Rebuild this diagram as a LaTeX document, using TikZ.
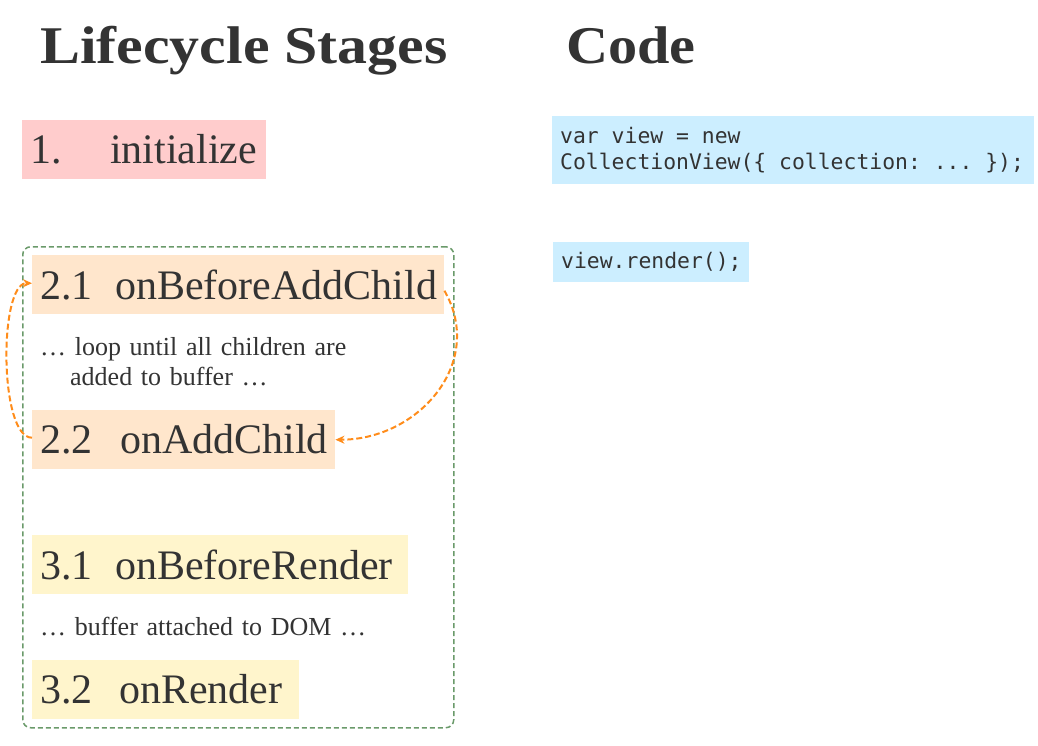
\documentclass[tikz,border=0pt]{standalone}
\usepackage{fontspec}
\setmainfont{Liberation Serif}
\newfontfamily\codefont{DejaVu Sans Mono}
\newcommand\cspace{\phantom{x}}
\usetikzlibrary{arrows.meta}
\definecolor{txt}{HTML}{333333}
\definecolor{pinkfill}{HTML}{FFCCCC}
\definecolor{peachfill}{HTML}{FFE6CC}
\definecolor{yellowfill}{HTML}{FFF5CC}
\definecolor{bluefill}{HTML}{CCEEFF}
\definecolor{loopgreen}{RGB}{106,154,106}
\definecolor{looporange}{HTML}{FF8C1A}
\tikzset{
  titletext/.style={anchor=base west, inner sep=0pt, text=txt, font=\fontsize{53}{60}\selectfont\bfseries},
  stagebox/.style={anchor=north west, inner xsep=8pt, inner ysep=0pt, align=left, text=txt,
     minimum height=59pt, font=\fontsize{42}{48}\selectfont},
  notetext/.style={anchor=base west, inner sep=0pt, align=left, text=txt,
     font=\fontsize{26}{30}\selectfont},
  codebox/.style={anchor=north west, inner xsep=8pt, inner ysep=0pt, align=left, text=txt,
     fill=bluefill, font=\codefont\fontsize{21.4}{26}\selectfont},
  groupbox/.style={draw=loopgreen, line width=1.5pt, dash pattern=on 5pt off 3pt, rounded corners=8pt},
  looparrow/.style={draw=looporange, line width=2pt, dash pattern=on 6pt off 3pt,
     -{Stealth[length=9pt,width=8pt]}},
}
\begin{document}
\begin{tikzpicture}[x=1pt,y=-1pt]
\useasboundingbox (0,0) rectangle (1038,745);
% titles
\node[titletext] (tstages) at (40,63) {\scalebox{1.13}[1]{Lifecycle Stages}};
\node[titletext] (tcode) at (566,63) {\scalebox{1.1}[1]{Code}};
% group
\node[groupbox, anchor=north west, minimum width=431pt, minimum height=481pt, inner sep=0pt] (grp) at (22,246) {};
% stages
\node[stagebox, fill=pinkfill, text width=228pt] (s1) at (22,120) {\makebox[80pt][l]{1.}initialize};
\node[stagebox, fill=peachfill, text width=396pt] (s21) at (32,255) {\makebox[75pt][l]{2.1}onBeforeAddChild};
\node[notetext, text width=380pt] (n1) at (40,355) {… loop until all children are\\\hspace*{30pt}added to buffer …};
\node[stagebox, fill=peachfill, text width=287pt] (s22) at (32,410) {\makebox[80pt][l]{2.2}onAddChild};
\node[stagebox, fill=yellowfill, text width=360pt] (s31) at (32,535) {\makebox[75pt][l]{3.1}onBeforeRender};
\node[notetext, text width=380pt] (n2) at (40,635) {… buffer attached to DOM …};
\node[stagebox, fill=yellowfill, text width=251pt] (s32) at (32,660) {\makebox[79pt][l]{3.2}onRender};
% code
\node[codebox, text width=466pt, minimum height=68pt] (c1) at (552,116) {var\cspace view\cspace =\cspace new\\CollectionView(\{\cspace collection:\cspace ...\cspace \});};
\node[codebox, text width=180pt, minimum height=40pt] (c2) at (553,242) {view.render();};
% loop arrows
\draw[looparrow] ([yshift=-6pt]s21.east) to[out=-60,in=0,looseness=1.15] (s22.east);
\draw[looparrow] ([yshift=2pt]s22.west) to[out=180,in=180,looseness=0.55] ([yshift=1.5pt]s21.west);
\end{tikzpicture}
\end{document}
